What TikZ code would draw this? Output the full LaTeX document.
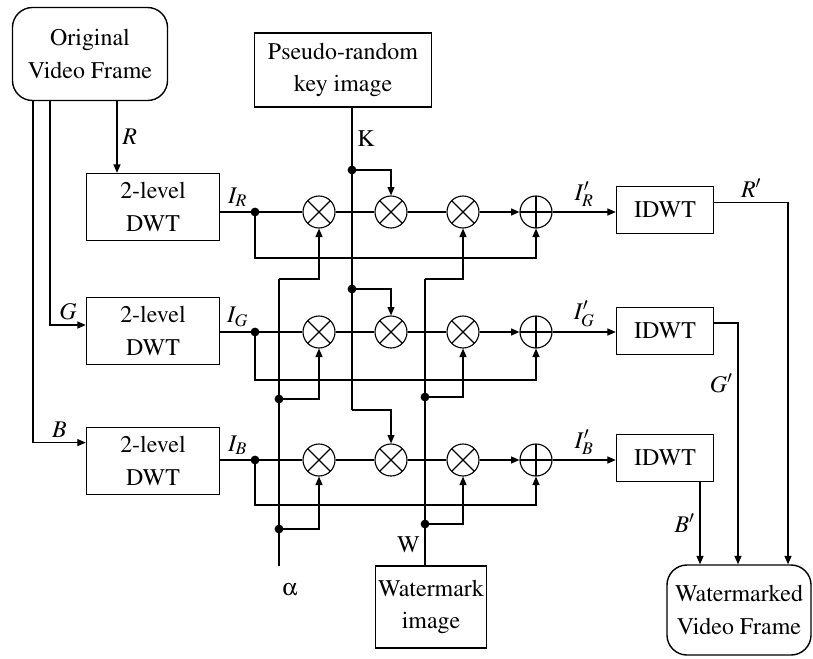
\documentclass[tikz,border=0pt]{standalone}
\usepackage[T1]{fontenc}
\usepackage{amsmath}
\usepackage{mathptmx}
\usepackage[Symbol]{upgreek}
\usetikzlibrary{arrows.meta,calc,positioning}

\begin{document}
\begin{tikzpicture}[x=0.025cm,y=-0.025cm,
  font=\fontsize{17}{23}\selectfont,
  box/.style={draw,line width=1pt,align=center,inner sep=2pt},
  roundbox/.style={box,rounded corners=0.5cm},
  mult/.style={circle,draw,line width=0.8pt,minimum size=0.8cm,inner sep=0pt,
    path picture={\draw[line width=0.8pt]
      (path picture bounding box.north west)--(path picture bounding box.south east)
      (path picture bounding box.north east)--(path picture bounding box.south west);}},
  adder/.style={circle,draw,line width=0.8pt,minimum size=0.8cm,inner sep=0pt,
    path picture={\draw[line width=0.8pt]
      (path picture bounding box.north)--(path picture bounding box.south)
      (path picture bounding box.west)--(path picture bounding box.east);}},
  wire/.style={line width=0.9pt},
  arr/.style={wire,-{Triangle[length=6pt,width=5pt]}}]
\useasboundingbox (0,0) rectangle (813,658);

% boxes
\node[roundbox,minimum width=3.875cm,minimum height=2.325cm] (orig) at (90,54) {Original\\Video Frame};
\node[box,minimum width=4.425cm,minimum height=1.85cm] (key) at (343,70) {Pseudo-random\\key image};
\node[box,minimum width=2.775cm,minimum height=2.05cm] (wm) at (431,607) {Watermark\\image};
\node[roundbox,minimum width=3.6cm,minimum height=2.25cm] (out) at (739,610) {Watermarked\\Video Frame};
\node[box,minimum width=3.325cm,minimum height=1.675cm] (dwtR) at (153,207) {2-level\\DWT};
\node[box,minimum width=3.325cm,minimum height=1.675cm] (dwtG) at (153,331) {2-level\\DWT};
\node[box,minimum width=3.325cm,minimum height=1.675cm] (dwtB) at (153,461) {2-level\\DWT};
\node[box,minimum width=2.425cm,minimum height=1.175cm] (idwtR) at (665,210) {IDWT};
\node[box,minimum width=2.425cm,minimum height=1.175cm] (idwtG) at (665,331) {IDWT};
\node[box,minimum width=2.425cm,minimum height=1.175cm] (idwtB) at (665,458) {IDWT};

% multipliers and adders
\node[mult] (mR1) at (319,212) {};
\node[mult] (mR2) at (391,212) {};
\node[mult] (mR3) at (463,212) {};
\node[adder] (sR) at (536,212) {};
\node[mult] (mG1) at (319,332) {};
\node[mult] (mG2) at (391,332) {};
\node[mult] (mG3) at (463,332) {};
\node[adder] (sG) at (536,332) {};
\node[mult] (mB1) at (319,460) {};
\node[mult] (mB2) at (391,460) {};
\node[mult] (mB3) at (463,460) {};
\node[adder] (sB) at (536,460) {};

% junctions
\coordinate (jR) at (255,212);
\coordinate (jG) at (255,332);
\coordinate (jB) at (255,460);
\coordinate (fbR) at (536,258);
\coordinate (fbG) at (536,380);
\coordinate (fbB) at (536,505);
\coordinate (kR) at (352,170);
\coordinate (kG) at (352,289);
\coordinate (kB) at (352,410);
\coordinate (alR) at (279,279);
\coordinate (alG) at (279,399);
\coordinate (alB) at (279,529);
\coordinate (alEnd) at (279,566);
\coordinate (wR) at (425,279);
\coordinate (wG) at (425,397);
\coordinate (wB) at (425,524);
\coordinate (colR) at (117,0);
\coordinate (colG) at (50,0);
\coordinate (colB) at (33,0);
\coordinate (colRo) at (788,0);
\coordinate (colGo) at (738,0);
\coordinate (colBo) at (700,0);

% colour channels in
\draw[arr] (orig.south -| colR) -- node[right]{$R$} (dwtR.north -| colR);
\draw[arr] (orig.south -| colG) |- node[pos=0.75,above]{$G$} ([yshift=0.15cm]dwtG.west);
\draw[arr] (orig.south -| colB) |- node[pos=0.75,above]{$B$} ([yshift=0.46cm]dwtB.west);

% rows
\draw[wire] (dwtR.east |- jR) -- node[above]{$I_R$} (jR) -- (mR1) -- (mR2) -- (mR3);
\draw[wire] (dwtG.east |- jG) -- node[above]{$I_G$} (jG) -- (mG1) -- (mG2) -- (mG3);
\draw[wire] (dwtB.east |- jB) -- node[above]{$I_B$} (jB) -- (mB1) -- (mB2) -- (mB3);
\draw[arr] (mR3) -- (sR);
\draw[arr] (mG3) -- (sG);
\draw[arr] (mB3) -- (sB);
\draw[arr] (sR) -- node[above]{$I'_R$} (idwtR.west |- sR);
\draw[arr] (sG) -- node[above]{$I'_G$} (idwtG.west |- sG);
\draw[arr] (sB) -- node[above]{$I'_B$} (idwtB.west |- sB);
\draw[arr] (jR) |- (fbR) -- (sR.south);
\draw[arr] (jG) |- (fbG) -- (sG.south);
\draw[arr] (jB) |- (fbB) -- (sB.south);

% key K
\draw[wire] (key.south -| kR) -- node[right]{K} (kR) -- (kG) -- (kB);
\draw[arr] (kR) -| (mR2.north);
\draw[arr] (kG) -| (mG2.north);
\draw[arr] (kB) -| (mB2.north);

% strength alpha
\draw[wire] (alEnd) -- (alB) -- (alG) -- (alR);
\node (alpha) at (290,590) {$\upalpha$};
\draw[arr] (alR) -| (mR1.south);
\draw[arr] (alG) -| (mG1.south);
\draw[arr] (alB) -| (mB1.south);

% watermark W
\draw[wire] (wm.north -| wR) -- node[left]{W} (wB) -- (wG) -- (wR);
\draw[arr] (wR) -| (mR3.south);
\draw[arr] (wG) -| (mG3.south);
\draw[arr] (wB) -| (mB3.south);

% dots
\foreach \p in {jR,jG,jB,kR,kG,alG,alB,wG,wB}
  \fill (\p) circle (0.11cm);

% colour channels out
\draw[arr] ([yshift=0.19cm]idwtR.east) -| node[pos=0.25,above]{$R'$} (out.north -| colRo);
\draw[arr] ([yshift=0.2cm]idwtG.east) -| node[pos=0.625,left]{$G'$} (out.north -| colGo);
\draw[arr] (idwtB.south -| colBo) -- node[left]{$B'$} (out.north -| colBo);
\end{tikzpicture}
\end{document}
